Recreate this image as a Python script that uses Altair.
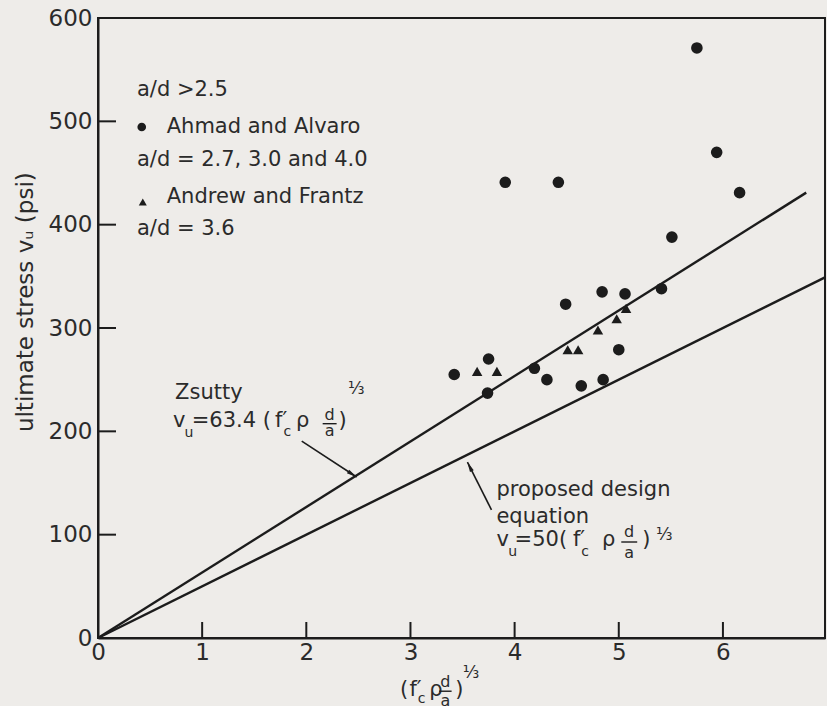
import altair as alt
import pandas as pd

# ---------------- data ----------------
ahmad_x = [5.75, 5.94, 6.16, 3.91, 4.42, 5.51, 4.49, 4.84, 5.06, 5.41, 5.00, 3.42, 3.75, 3.74, 4.19, 4.31, 4.64, 4.85]
ahmad_y = [571, 470, 431, 441, 441, 388, 323, 335, 333, 338, 279, 255, 270, 237, 261, 250, 244, 250]
andrew_x = [5.07, 4.98, 4.80, 4.51, 4.61, 3.64, 3.83]
andrew_y = [319, 309, 298, 279, 279, 258, 258]

zsutty_x = [0, 6.8]
zsutty_y = [0, 431]
proposed_x = [0, 6.98]
proposed_y = [0, 349]

x_ticks = [0, 1, 2, 3, 4, 5, 6]
y_ticks = [0, 100, 200, 300, 400, 500, 600]

FONT = "DejaVu Sans"
INK = "#1c1c1c"
TXT = "#2b2b2b"
BG = "#eeece9"

XS = alt.Scale(domain=[0, 6.98], nice=False, zero=False)
YS = alt.Scale(domain=[0, 600], nice=False, zero=False)

XAX = alt.Axis(values=x_ticks, tickSize=0, labelFontSize=23, labelFont=FONT, labelColor=TXT,
               labelPadding=3, domainColor=INK, domainWidth=2, grid=False,
               labelFlush=False, labelOverlap=False, title="")
YAX = alt.Axis(values=y_ticks, tickSize=0, labelFontSize=23, labelFont=FONT, labelColor=TXT,
               labelPadding=6, domainColor=INK, domainWidth=2, grid=False,
               labelFlush=False, labelOverlap=False, title="")


def xq(f="x"):
    return alt.X(f"{f}:Q", scale=XS, axis=XAX, title="")


def yq(f="y"):
    return alt.Y(f"{f}:Q", scale=YS, axis=YAX, title="")


# ---------------- marks ----------------
ahmad = pd.DataFrame({"x": ahmad_x, "y": ahmad_y})
andrew = pd.DataFrame({"x": andrew_x, "y": andrew_y})

circles = alt.Chart(ahmad).mark_point(filled=True, shape="circle", size=135, color=INK, opacity=1).encode(
    x=xq(), y=yq())
triangles = alt.Chart(andrew).mark_point(filled=True, shape="triangle-up", size=110, color=INK, opacity=1).encode(
    x=xq(), y=yq())

lines_df = pd.DataFrame({
    "x": zsutty_x + proposed_x,
    "y": zsutty_y + proposed_y,
    "s": ["Zsutty"] * len(zsutty_x) + ["proposed"] * len(proposed_x),
})
lines = alt.Chart(lines_df).mark_line(color=INK, strokeWidth=2.4).encode(x=xq(), y=yq(), detail="s:N")

# inward ticks
xt = pd.DataFrame({"x": x_ticks[1:], "y": [0] * (len(x_ticks) - 1), "y2": [15.5] * (len(x_ticks) - 1)})
xtick = alt.Chart(xt).mark_rule(color=INK, strokeWidth=2).encode(x=xq(), y=yq(), y2="y2:Q")
yt = pd.DataFrame({"y": y_ticks[1:-1], "x": [0] * (len(y_ticks) - 2), "x2": [0.173] * (len(y_ticks) - 2)})
ytick = alt.Chart(yt).mark_rule(color=INK, strokeWidth=2).encode(y=yq(), x=xq(), x2="x2:Q")

# legend symbols
leg_c = alt.Chart(pd.DataFrame({"x": [0.42], "y": [494.5]})).mark_point(
    filled=True, shape="circle", size=75, color=INK, opacity=1).encode(x=xq(), y=yq())
leg_t = alt.Chart(pd.DataFrame({"x": [0.43], "y": [422]})).mark_point(
    filled=True, shape="triangle-up", size=65, color=INK, opacity=1).encode(x=xq(), y=yq())

# annotation text (left aligned)
left_rows = [
    (0.374, 530, "a/d >2.5", 21),
    (0.66, 494.5, "Ahmad and Alvaro", 21),
    (0.374, 462.6, "a/d = 2.7, 3.0 and 4.0", 21),
    (0.66, 426.8, "Andrew and Frantz", 21),
    (0.374, 395.8, "a/d = 3.6", 21),
    (0.74, 237, "Zsutty", 21),
    (0.72, 210, "v", 21),
    (0.83, 198, "u", 14),
    (0.90, 210, "=63.4 (", 21),
    (1.70, 210, "f\u2032", 21),
    (1.78, 199, "c", 14),
    (1.90, 210, "\u03c1", 21),
    (2.31, 210, ")", 21),
    (3.825, 143.2, "proposed design", 21),
    (3.825, 117.1, "equation", 21),
    (3.825, 94.8, "v", 21),
    (3.94, 83.2, "u", 14),
    (4.00, 94.8, "=50(", 21),
    (4.56, 94.8, "f\u2032", 21),
    (4.64, 83.5, "c", 14),
    (4.84, 94.8, "\u03c1", 21),
    (5.225, 94.8, ")", 21),
    (2.90, -50.3, "(", 21),
    (2.99, -50.3, "f\u2032", 21),
    (3.07, -59, "c", 14),
    (3.18, -50.3, "\u03c1", 21),
    (3.43, -50.3, ")", 21),
]
center_rows = [
    (2.224, 216, "d", 16),
    (2.224, 200, "a", 16),
    (2.48, 241, "\u2153", 17),
    (5.10, 102.6, "d", 16),
    (5.10, 82.3, "a", 16),
    (5.436, 99.7, "\u2153", 17),
    (3.335, -42.5, "d", 16),
    (3.335, -60.5, "a", 16),
    (3.58, -33.9, "\u2153", 17),
]
ldf = pd.DataFrame(left_rows, columns=["x", "y", "t", "s"])
cdf = pd.DataFrame(center_rows, columns=["x", "y", "t", "s"])
txt_l = alt.Chart(ldf).mark_text(align="left", baseline="middle", font=FONT, color=TXT).encode(
    x=xq(), y=yq(), text="t:N", size=alt.Size("s:Q", scale=None))
txt_c = alt.Chart(cdf).mark_text(align="center", baseline="middle", font=FONT, color=TXT).encode(
    x=xq(), y=yq(), text="t:N", size=alt.Size("s:Q", scale=None))

ytitle = alt.Chart(pd.DataFrame({"x": [-0.69], "y": [325], "t": ["ultimate stress v\u1d64 (psi)"]})).mark_text(
    align="center", baseline="middle", angle=270, font=FONT, fontSize=23, color=TXT).encode(
    x=xq(), y=yq(), text="t:N")

# fraction bars
fb = pd.DataFrame({"x": [2.157, 5.024, 3.275], "x2": [2.291, 5.177, 3.395], "y": [207.4, 92.9, -51.5]})
bars = alt.Chart(fb).mark_rule(color=INK, strokeWidth=1.4).encode(x=xq(), x2="x2:Q", y=yq())

# arrows
ar = pd.DataFrame({"x": [1.956, 3.778], "x2": [2.483, 3.547], "y": [190.6, 123.9], "y2": [155.8, 170.3]})
arrows = alt.Chart(ar).mark_rule(color=INK, strokeWidth=1.6).encode(x=xq(), x2="x2:Q", y=yq(), y2="y2:Q")
heads = pd.DataFrame({"x": [2.443, 3.567], "y": [158.4, 166.0], "a": [123.2, 333.4]})
arrowheads = alt.Chart(heads).mark_point(
    filled=True, shape="M0,-1L0.4,1L-0.4,1Z", size=110, color=INK, opacity=1).encode(
    x=xq(), y=yq(), angle=alt.Angle("a:Q", scale=None))

chart = alt.layer(
    lines, xtick, ytick, circles, triangles, leg_c, leg_t, txt_l, txt_c, ytitle, bars, arrows, arrowheads
).properties(
    width=727, height=620,
    padding={"left": 98, "top": 18, "right": 2, "bottom": 68},
    autosize=alt.AutoSizeParams(type="none"),
    background=BG,
).configure_view(stroke=INK, strokeWidth=2, fill=BG)

chart.save("out.html", embed_options={"renderer": "svg", "actions": False})
